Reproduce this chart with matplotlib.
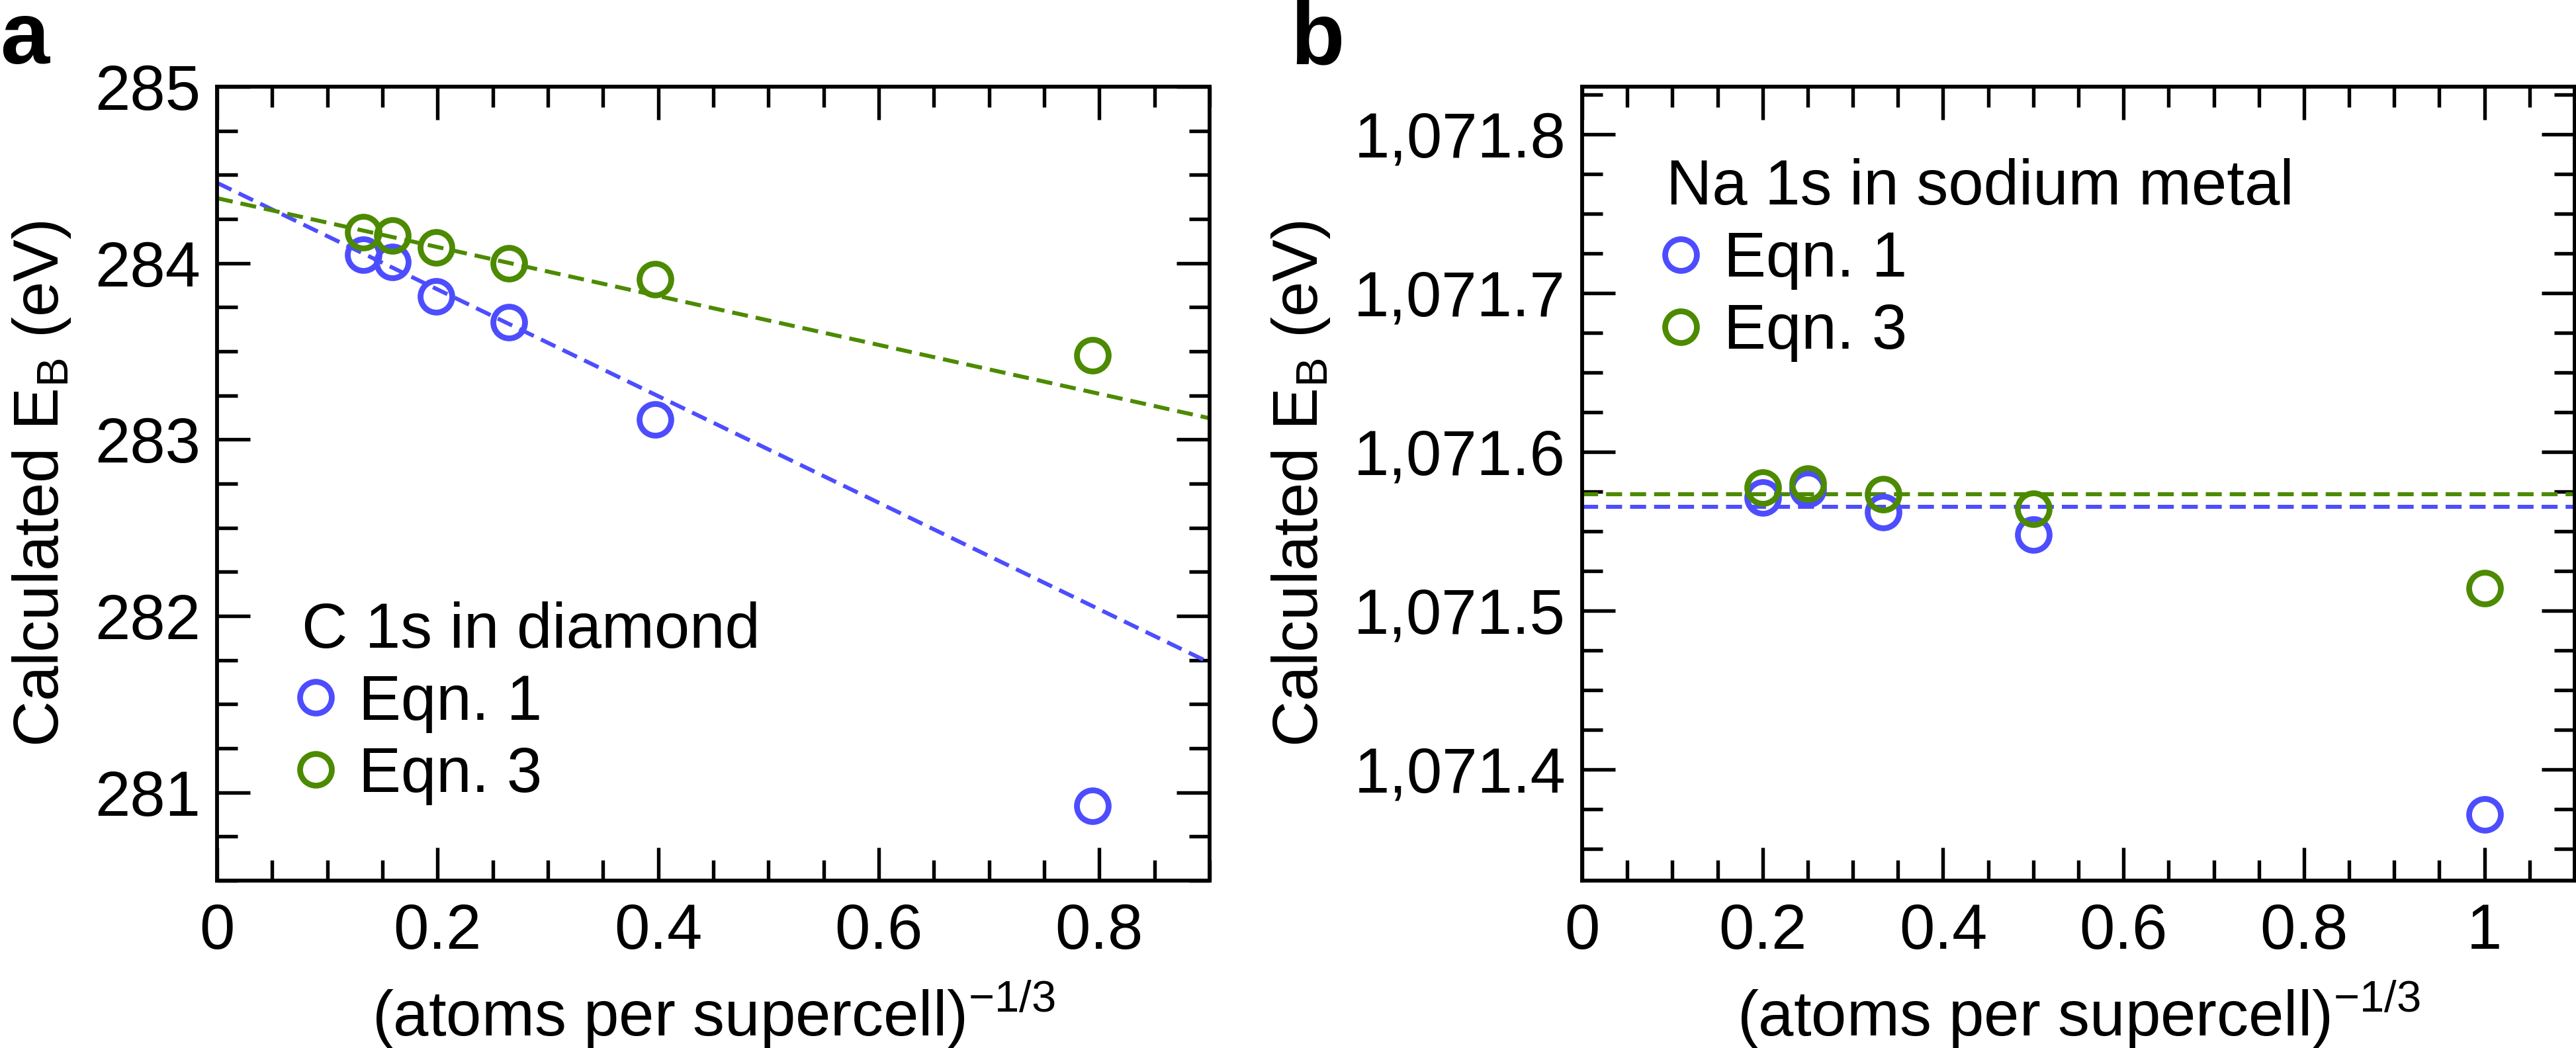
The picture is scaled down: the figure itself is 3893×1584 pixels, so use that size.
import matplotlib
matplotlib.use('Agg')
from matplotlib import pyplot as plt
from matplotlib.lines import Line2D
from matplotlib.ticker import MultipleLocator, FuncFormatter

plt.rcParams['font.family'] = ['Liberation Sans', 'DejaVu Sans']
plt.rcParams['mathtext.default'] = 'regular'
plt.rcParams['font.size'] = 23

blue = '#4d4dff'
green = '#4c8a00'

# panel a: C 1s in diamond
x_a = [0.1323, 0.1587, 0.1984, 0.2646, 0.3969, 0.7937]
eqn1_a = [284.047, 284.006, 283.813, 283.664, 283.112, 280.925]
eqn3_a = [284.174, 284.156, 284.087, 284.000, 283.910, 283.477]
# fitted lines (intercept, slope)
fit1_a = (284.455, -3.022)
fit3_a = (284.368, -1.386)

# panel b: Na 1s in sodium metal
x_b = [0.2, 0.25, 0.3333, 0.5, 1.0]
eqn1_b = [1071.5714, 1071.5766, 1071.5621, 1071.5479, 1071.3716]
eqn3_b = [1071.5773, 1071.5801, 1071.5732, 1071.5642, 1071.5143]
fit1_b = (1071.5655, 0.0)
fit3_b = (1071.5735, 0.0)

W, H = 3893, 1584
fig = plt.figure(figsize=(W / 300, H / 300), dpi=300)
ax_a = fig.add_axes([328 / W, 1 - 1331 / H, 1500 / W, 1200 / H])
ax_b = fig.add_axes([2391 / W, 1 - 1331 / H, 1500 / W, 1200 / H])

mk = dict(marker='o', ms=11.5, mfc='none', mew=2.1, ls='none', clip_on=False, zorder=3)
ln = dict(lw=1.45, ls=(0, (4, 2)), zorder=2)


def style(ax):
    for s in ax.spines.values():
        s.set_linewidth(1.4)
    ax.tick_params(which='both', direction='in', top=True, right=True, width=1.3)
    ax.tick_params(which='major', length=12)
    ax.tick_params(which='minor', length=7.5)
    ax.tick_params(axis='x', pad=8)
    ax.tick_params(axis='y', pad=6)
    ax.xaxis.set_major_formatter(FuncFormatter(lambda v, p: f'{round(v, 6):g}'))
    ax.set_xlabel(r'(atoms per supercell)$^{-1/3}$', labelpad=6)
    ax.set_ylabel(r'Calculated E$_B$ (eV)', labelpad=8)


def legend(ax, title, loc, anchor):
    handles = [Line2D([], [], color=blue, **mk), Line2D([], [], color=green, **mk)]
    ax.legend(handles, ['Eqn. 1', 'Eqn. 3'], title=title, loc=loc, bbox_to_anchor=anchor,
              frameon=False, handlelength=0.45, handletextpad=0.45, borderpad=0,
              borderaxespad=0, labelspacing=0.2, alignment='left', title_fontsize=23)


# panel a
ax_a.axline((0, fit1_a[0]), slope=fit1_a[1], color=blue, **ln)
ax_a.axline((0, fit3_a[0]), slope=fit3_a[1], color=green, **ln)
ax_a.plot(x_a, eqn1_a, color=blue, **mk)
ax_a.plot(x_a, eqn3_a, color=green, **mk)
ax_a.set_xlim(0, 0.9)
ax_a.set_ylim(280.5, 285)
ax_a.xaxis.set_major_locator(MultipleLocator(0.2))
ax_a.xaxis.set_minor_locator(MultipleLocator(0.05))
ax_a.yaxis.set_major_locator(MultipleLocator(1))
ax_a.yaxis.set_minor_locator(MultipleLocator(0.25))
style(ax_a)
legend(ax_a, 'C 1s in diamond', 'lower left', (0.085, 0.095))

# panel b
ax_b.axline((0, fit1_b[0]), slope=fit1_b[1], color=blue, **ln)
ax_b.axline((0, fit3_b[0]), slope=fit3_b[1], color=green, **ln)
ax_b.plot(x_b, eqn1_b, color=blue, **mk)
ax_b.plot(x_b, eqn3_b, color=green, **mk)
ax_b.set_xlim(0, 1.1)
ax_b.set_ylim(1071.33, 1071.83)
ax_b.xaxis.set_major_locator(MultipleLocator(0.2))
ax_b.xaxis.set_minor_locator(MultipleLocator(0.05))
ax_b.yaxis.set_major_locator(MultipleLocator(0.1))
ax_b.yaxis.set_minor_locator(MultipleLocator(0.025))
ax_b.yaxis.set_major_formatter(FuncFormatter(lambda v, p: f'{v:,.1f}'))
style(ax_b)
legend(ax_b, 'Na 1s in sodium metal', 'upper left', (0.085, 0.91))

fig.text(0.0, 1 - 96 / H, 'a', fontsize=32, fontweight='bold', ha='left', va='baseline')
fig.text(1950 / W, 1 - 96 / H, 'b', fontsize=32, fontweight='bold', ha='left', va='baseline')

fig.savefig('out.png', dpi=300)
